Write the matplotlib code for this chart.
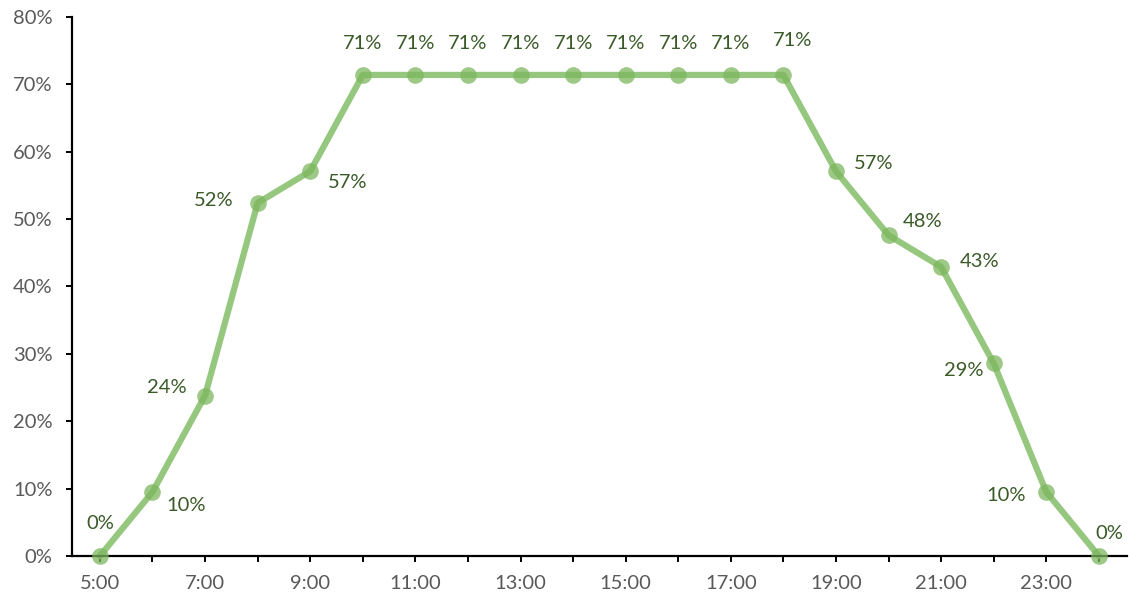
import matplotlib
matplotlib.use('Agg')

import matplotlib.pyplot as plt
from matplotlib.ticker import PercentFormatter

# 每小时占比
hours = ['5:00', '6:00', '7:00', '8:00', '9:00', '10:00', '11:00', '12:00', '13:00', '14:00',
         '15:00', '16:00', '17:00', '18:00', '19:00', '20:00', '21:00', '22:00', '23:00', '24:00']
share = [0.0, 9.5, 23.8, 52.4, 57.1, 71.4, 71.4, 71.4, 71.4, 71.4,
         71.4, 71.4, 71.4, 71.4, 57.1, 47.6, 42.9, 28.6, 9.5, 0.0]
labels = ['0%', '10%', '24%', '52%', '57%', '71%', '71%', '71%', '71%', '71%',
          '71%', '71%', '71%', '71%', '57%', '48%', '43%', '29%', '10%', '0%']

# 标签偏移 (像素)
offsets = [(0, 33), (34, -14), (-38, 8), (-44, 2), (37, -11),
           (0, 31), (0, 31), (0, 31), (0, 31), (0, 31), (0, 31), (0, 31), (0, 31),
           (9, 34), (38, 8), (34, 14), (38, 5), (-30, -7), (-40, -4), (10, 23)]

plt.rcParams['font.family'] = ['Lato', 'DejaVu Sans']

fig = plt.figure(figsize=(11.29, 5.96), dpi=100)
ax = fig.add_axes([0.0638, 0.0671, 0.9342, 0.9044])

x = list(range(len(hours)))
ax.plot(x, share, color='#95c77e', lw=4.5, solid_capstyle='round', zorder=2, clip_on=False)
ax.plot(x, share, 'o', color='#7db65e', alpha=0.75, ms=12, mew=0, zorder=3, clip_on=False)

for xi, yi, lab, (dx, dy) in zip(x, share, labels, offsets):
    ax.annotate(lab, (xi, yi), xytext=(dx, dy), textcoords='offset pixels',
                ha='center', va='center', fontsize=14.5, color='#3a5a28')

ax.set_xlim(-0.53, 19.53)
ax.set_ylim(0, 80)
ax.set_xticks(x)
ax.set_xticklabels([h if i % 2 == 0 else '' for i, h in enumerate(hours)])
ax.set_yticks(range(0, 81, 10))
ax.yaxis.set_major_formatter(PercentFormatter(decimals=0))

for s in ['top', 'right']:
    ax.spines[s].set_visible(False)
for s in ['left', 'bottom']:
    ax.spines[s].set_linewidth(1.6)
    ax.spines[s].set_color('black')
ax.tick_params(axis='both', direction='out', length=4, width=1.4,
               labelsize=14.5, labelcolor='#595959')
ax.tick_params(axis='y', pad=10)
ax.tick_params(axis='x', pad=10)

fig.savefig('out.png', dpi=100)
